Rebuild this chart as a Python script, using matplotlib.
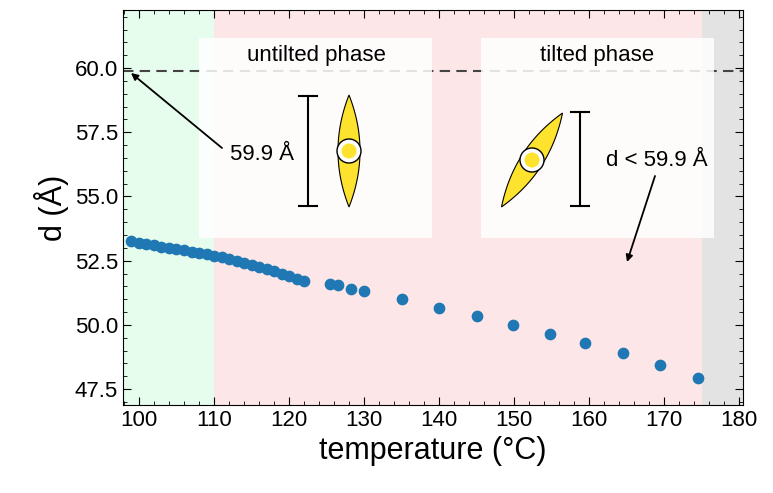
import numpy as np
import matplotlib
matplotlib.use("Agg")
import matplotlib.pyplot as plt
from matplotlib.ticker import MultipleLocator
from matplotlib.patches import Polygon, Circle, Rectangle

plt.rcParams['font.family'] = ['Liberation Sans', 'DejaVu Sans']

temps = [99, 100, 101, 102, 103, 104, 105, 106, 107, 108, 109, 110, 111, 112,
         113, 114, 115, 116, 117, 118, 119, 120, 121, 122,
         125.5, 126.5, 128.3, 130, 135, 140, 145, 149.8, 154.8, 159.5, 164.5, 169.5, 174.5]
dvals = [53.25, 53.2, 53.15, 53.1, 53.05, 53.0, 52.95, 52.9, 52.85, 52.8, 52.75, 52.7, 52.65, 52.58,
         52.5, 52.42, 52.33, 52.25, 52.17, 52.08, 52.0, 51.9, 51.8, 51.7,
         51.6, 51.55, 51.4, 51.3, 51.0, 50.65, 50.35, 50.0, 49.65, 49.3, 48.9, 48.45, 47.95]
d_untilted = 59.9

W, H = 773, 493
fig = plt.figure(figsize=(W / 100, H / 100), dpi=100)
ax = fig.add_axes([123 / W, 1 - 405 / H, 620 / W, 395 / H])

ax.axvspan(97.87, 110, color='#e6fcec', lw=0)
ax.axvspan(110, 175, color='#fde6e8', lw=0)
ax.axvspan(175, 180.5, color='#e3e3e3', lw=0)
ax.axhline(d_untilted, color='#444444', ls='--', lw=1.5, dashes=(5, 3), zorder=1)
ax.scatter(temps, dvals, s=55, color='#1f77b4', zorder=5)

ax.set_xlim(97.87, 180.5)
ax.set_ylim(46.88, 62.26)
ax.xaxis.set_major_locator(MultipleLocator(10))
ax.xaxis.set_minor_locator(MultipleLocator(2))
ax.yaxis.set_major_locator(MultipleLocator(2.5))
ax.yaxis.set_minor_locator(MultipleLocator(0.5))
ax.tick_params(which='both', direction='in', top=True, right=True, labelsize=16)
ax.tick_params(which='major', length=6)
ax.tick_params(which='minor', length=3)
ax.set_xlabel('temperature (°C)', fontsize=22)
ax.set_ylabel('d (Å)', fontsize=22)

# overlay in pixel coordinates for the sketches
ov = fig.add_axes([0, 0, 1, 1], zorder=3)
ov.set_xlim(0, W)
ov.set_ylim(H, 0)
ov.axis('off')
ov.patch.set_alpha(0)

for x0 in (199, 481):
    ov.add_patch(Rectangle((x0, 38), 233, 200, facecolor='white', alpha=0.85, lw=0))
ov.text(316, 55, 'untilted phase', ha='center', va='center', fontsize=16)
ov.text(597, 55, 'tilted phase', ha='center', va='center', fontsize=16)

def lens(cx, cy, half, width, angle):
    t = np.linspace(-1, 1, 60)
    w = width * (1 - t ** 2)
    pts = np.concatenate([np.c_[w, t * half], np.c_[-w[::-1], t[::-1] * half]])
    a = np.deg2rad(angle)
    rot = np.array([[np.cos(a), -np.sin(a)], [np.sin(a), np.cos(a)]])
    pts = pts @ rot.T + [cx, cy]
    ov.add_patch(Polygon(pts, closed=True, facecolor='#fde22e', edgecolor='black', lw=0.8))
    ov.add_patch(Circle((cx, cy), 12, facecolor='white', edgecolor='black', lw=1))
    ov.add_patch(Circle((cx, cy), 7.5, facecolor='#fde22e', edgecolor='none'))

def scalebar(x, y0, y1):
    ov.plot([x, x], [y0, y1], color='black', lw=1.5)
    ov.plot([x - 9, x + 9], [y0, y0], color='black', lw=1.5)
    ov.plot([x - 9, x + 9], [y1, y1], color='black', lw=1.5)

lens(349, 151, 56, 11, 0)
scalebar(308, 96, 206)
lens(532, 160, 56, 11, 33)
scalebar(580, 112, 206)

ov.text(262, 155, '59.9 Å', ha='center', va='center', fontsize=16)
ov.annotate('', xy=(131, 73), xytext=(222, 148),
            arrowprops=dict(arrowstyle='-|>', color='black', lw=1.3, shrinkA=0, shrinkB=0))
ov.text(657, 160, 'd < 59.9 Å', ha='center', va='center', fontsize=16)
ov.annotate('', xy=(627, 262), xytext=(655, 176),
            arrowprops=dict(arrowstyle='-|>', color='black', lw=1.3, shrinkA=0, shrinkB=0))

fig.savefig('out.png', dpi=100)
